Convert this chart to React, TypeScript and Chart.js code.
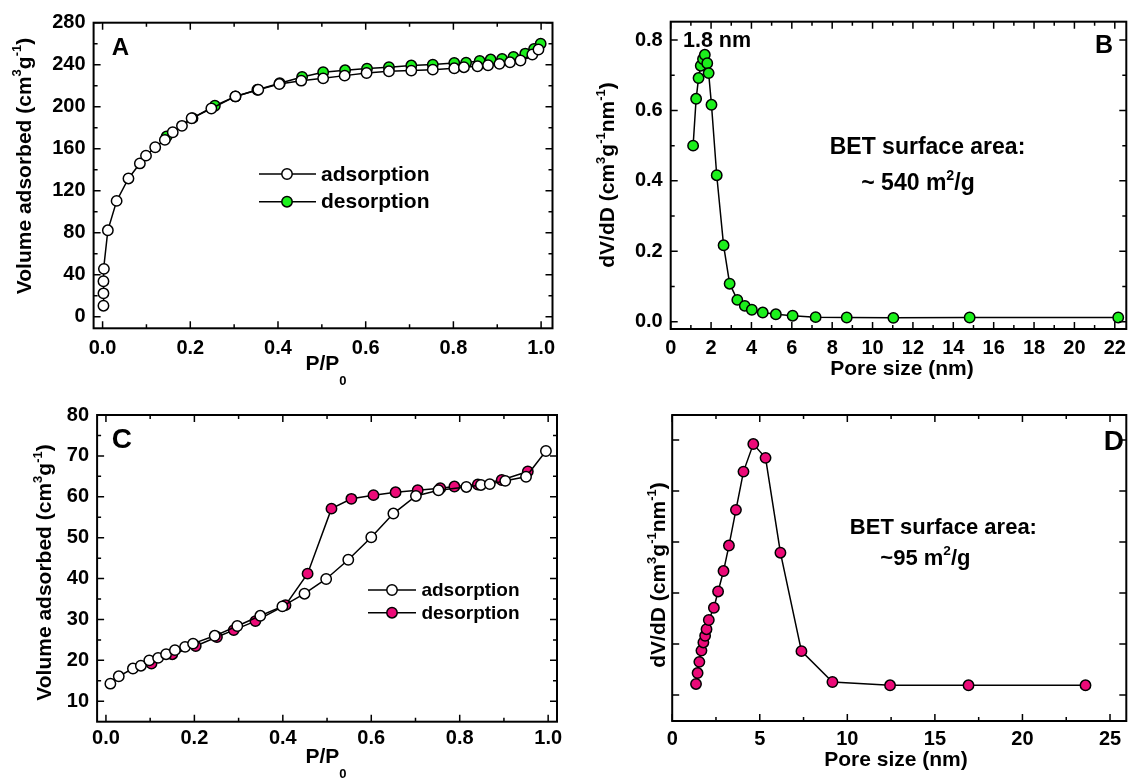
import { useEffect, useRef } from 'react';
import { Chart, registerables } from 'chart.js';

Chart.register(...registerables);

const FONT = '"Liberation Sans", Arial, Helvetica, sans-serif';
const W = 1133;
const H = 781;
const GREEN = '#1CF01C';
const PINK = '#EC0A78';

// ---------- Panel A: isotherm (large surface area sample) ----------
const aAdsX = [0.002, 0.002, 0.002, 0.003, 0.012, 0.032, 0.059, 0.085, 0.099, 0.12, 0.142, 0.16, 0.181, 0.203, 0.248, 0.303, 0.355, 0.403, 0.453, 0.503, 0.552, 0.602, 0.653, 0.704, 0.753, 0.802, 0.824, 0.855, 0.879, 0.905, 0.929, 0.953, 0.98, 0.994];
const aAdsY = [10.5, 22.3, 33.8, 45.6, 82.3, 110.3, 131.7, 146, 153.4, 161.4, 168.4, 175.7, 181.8, 189, 198.3, 209.8, 216.2, 221.6, 224.8, 227, 229.6, 232.1, 233.7, 234.4, 235.3, 236.6, 237.6, 238.5, 239.5, 240.8, 242.3, 244, 249.7, 254.5];
const aDesX = [0.999, 0.984, 0.964, 0.937, 0.911, 0.885, 0.86, 0.829, 0.802, 0.753, 0.704, 0.653, 0.603, 0.553, 0.503, 0.455, 0.404, 0.353, 0.303, 0.256, 0.205, 0.146];
const aDesY = [260, 255, 250.6, 247.4, 245.5, 244.9, 243.6, 242, 241.7, 240.1, 239.2, 237.6, 236.3, 234.7, 232.8, 228.3, 222.3, 216.2, 209.8, 200.9, 189.1, 171.6];
const aXTicks = [0, 0.2, 0.4, 0.6, 0.8, 1.0];
const aYTicks = [0, 40, 80, 120, 160, 200, 240, 280];

// ---------- Panel B: pore size distribution ----------
const bX = [1.11, 1.26, 1.38, 1.49, 1.6, 1.69, 1.81, 1.88, 2.02, 2.28, 2.62, 2.92, 3.3, 3.67, 4.02, 4.56, 5.21, 6.04, 7.18, 8.72, 11.03, 14.81, 22.17];
const bY = [0.5, 0.633, 0.692, 0.727, 0.746, 0.758, 0.734, 0.706, 0.616, 0.416, 0.217, 0.108, 0.062, 0.045, 0.034, 0.026, 0.021, 0.017, 0.013, 0.012, 0.011, 0.012, 0.012];
const bXTicks = [0, 2, 4, 6, 8, 10, 12, 14, 16, 18, 20, 22];
const bYTicks = [0, 0.2, 0.4, 0.6, 0.8];

// ---------- Panel C: isotherm (small surface area sample) ----------
const cAdsX = [0.01, 0.029, 0.061, 0.079, 0.098, 0.118, 0.136, 0.156, 0.179, 0.197, 0.246, 0.297, 0.349, 0.399, 0.449, 0.498, 0.548, 0.6, 0.65, 0.701, 0.752, 0.815, 0.848, 0.868, 0.903, 0.95, 0.995];
const cAdsY = [14.3, 16.1, 18.0, 18.7, 20.0, 20.6, 21.5, 22.5, 23.3, 24.1, 26.0, 28.4, 30.9, 33.2, 36.3, 39.9, 44.6, 50.1, 55.9, 60.2, 61.6, 62.4, 62.9, 63.1, 63.9, 64.9, 71.2];
const cDesX = [0.954, 0.895, 0.841, 0.788, 0.756, 0.705, 0.655, 0.605, 0.555, 0.51, 0.456, 0.406, 0.338, 0.289, 0.251, 0.203, 0.15, 0.103];
const cDesY = [66.2, 64.1, 63.0, 62.5, 62.1, 61.6, 61.1, 60.4, 59.5, 57.1, 41.2, 33.5, 29.6, 27.4, 25.7, 23.5, 21.5, 19.2];
const cXTicks = [0, 0.2, 0.4, 0.6, 0.8, 1.0];
const cYTicks = [10, 20, 30, 40, 50, 60, 70, 80];

// ---------- Panel D: pore size distribution (arbitrary units) ----------
const dX = [1.36, 1.45, 1.55, 1.67, 1.78, 1.88, 1.96, 2.09, 2.38, 2.62, 2.93, 3.24, 3.64, 4.07, 4.63, 5.33, 6.18, 7.38, 9.15, 12.44, 16.92, 23.6];
const dY = [0.216, 0.43, 0.65, 0.87, 1.03, 1.16, 1.29, 1.47, 1.71, 2.03, 2.43, 2.93, 3.63, 4.38, 4.92, 4.65, 2.79, 0.86, 0.255, 0.19, 0.19, 0.19];
const dXTicks = [0, 5, 10, 15, 20, 25];
const dYTicks = [0, 1, 2, 3, 4, 5];

type Part = { t: string; s?: 'sup' | 'sub' };
type Txt = { x: number; y: number; size: number; parts: Part[]; align: 'left' | 'center'; rot?: boolean };
type Series = { xs: number[]; ys: number[]; fill: string };
type Legend = { lineX0: number; lineX1: number; markX: number; textX: number; size: number; rows: { y: number; fill: string; label: string }[] };

type PanelCfg = {
  area: { l: number; t: number; r: number; b: number };
  xMin: number; xMax: number; xTicks: number[]; xMinor: number[]; xFmt: (v: number) => string; xPad: number;
  yMin: number; yMax: number; yTicks: number[]; yMinor: number[]; yFmt: (v: number) => string; yLabels: boolean;
  series: Series[];
  texts: Txt[];
  legend?: Legend;
};

const steps = (from: number, to: number, step: number) => {
  const out: number[] = [];
  for (let v = from; v <= to + 1e-9; v += step) out.push(Math.round(v * 1000) / 1000);
  return out;
};

const fx1 = (v: number) => v.toFixed(1);
const fint = (v: number) => String(Math.round(v));
const volTitle: Part[] = [{ t: 'Volume adsorbed (cm' }, { t: '3', s: 'sup' }, { t: 'g' }, { t: '-1', s: 'sup' }, { t: ')' }];
const dvTitle: Part[] = [{ t: 'dV/dD (cm' }, { t: '3', s: 'sup' }, { t: 'g' }, { t: '-1', s: 'sup' }, { t: 'nm' }, { t: '-1', s: 'sup' }, { t: ')' }];
const ppTitle: Part[] = [{ t: 'P/P' }, { t: '0', s: 'sub' }];

const R = 5.2;

const panels: PanelCfg[] = [
  {
    area: { l: 93.6, t: 22.7, r: 552.5, b: 328.3 },
    xMin: -0.0205, xMax: 1.026, xTicks: aXTicks, xMinor: steps(0.1, 0.9, 0.2), xFmt: fx1, xPad: 8,
    yMin: -11, yMax: 280, yTicks: aYTicks, yMinor: steps(20, 260, 40), yFmt: fint, yLabels: true,
    series: [
      { xs: aAdsX, ys: aAdsY, fill: '#ffffff' },
      { xs: aDesX, ys: aDesY, fill: GREEN },
    ],
    texts: [
      { x: 111.7, y: 55, size: 24, parts: [{ t: 'A' }], align: 'left' },
      { x: 326, y: 370, size: 21, parts: ppTitle, align: 'center' },
      { x: 30.5, y: 166, size: 21, parts: volTitle, align: 'center', rot: true },
    ],
    legend: {
      lineX0: 259, lineX1: 316, markX: 287, textX: 321, size: 21,
      rows: [
        { y: 174, fill: '#ffffff', label: 'adsorption' },
        { y: 201.7, fill: GREEN, label: 'desorption' },
      ],
    },
  },
  {
    area: { l: 670.7, t: 21.7, r: 1130, b: 329 },
    xMin: 0, xMax: 22.57, xTicks: bXTicks, xMinor: steps(1, 21, 2), xFmt: fint, xPad: 7,
    yMin: -0.0207, yMax: 0.852, yTicks: bYTicks, yMinor: steps(0.1, 0.7, 0.2), yFmt: fx1, yLabels: true,
    series: [{ xs: bX, ys: bY, fill: GREEN }],
    texts: [
      { x: 1095, y: 53.3, size: 25, parts: [{ t: 'B' }], align: 'left' },
      { x: 683, y: 46.5, size: 21.5, parts: [{ t: '1.8 nm' }], align: 'left' },
      { x: 927.5, y: 154, size: 23, parts: [{ t: 'BET surface area:' }], align: 'center' },
      { x: 918, y: 190, size: 23, parts: [{ t: '~ 540 m' }, { t: '2', s: 'sup' }, { t: '/g' }], align: 'center' },
      { x: 902, y: 375, size: 21, parts: [{ t: 'Pore size (nm)' }], align: 'center' },
      { x: 614, y: 175, size: 21, parts: dvTitle, align: 'center', rot: true },
    ],
  },
  {
    area: { l: 97.1, t: 415, r: 557, b: 721.7 },
    xMin: -0.02, xMax: 1.02, xTicks: cXTicks, xMinor: steps(0.1, 0.9, 0.2), xFmt: fx1, xPad: 5,
    yMin: 5, yMax: 80, yTicks: cYTicks, yMinor: steps(15, 75, 10), yFmt: fint, yLabels: true,
    series: [
      { xs: cAdsX, ys: cAdsY, fill: '#ffffff' },
      { xs: cDesX, ys: cDesY, fill: PINK },
    ],
    texts: [
      { x: 111.7, y: 448.3, size: 28, parts: [{ t: 'C' }], align: 'left' },
      { x: 326, y: 763, size: 21, parts: ppTitle, align: 'center' },
      { x: 51, y: 572.5, size: 21, parts: volTitle, align: 'center', rot: true },
    ],
    legend: {
      lineX0: 368, lineX1: 416, markX: 392, textX: 421.4, size: 19,
      rows: [
        { y: 590, fill: '#ffffff', label: 'adsorption' },
        { y: 612.7, fill: PINK, label: 'desorption' },
      ],
    },
  },
  {
    area: { l: 672.2, t: 415, r: 1130, b: 721 },
    xMin: 0, xMax: 25.93, xTicks: dXTicks, xMinor: steps(2.5, 22.5, 5), xFmt: fint, xPad: 6,
    yMin: -0.51, yMax: 5.49, yTicks: dYTicks, yMinor: [], yFmt: () => '', yLabels: false,
    series: [{ xs: dX, ys: dY, fill: PINK }],
    texts: [
      { x: 1103.8, y: 450, size: 28, parts: [{ t: 'D' }], align: 'left' },
      { x: 943.4, y: 534, size: 22, parts: [{ t: 'BET surface area:' }], align: 'center' },
      { x: 925.4, y: 565, size: 22, parts: [{ t: '~95 m' }, { t: '2', s: 'sup' }, { t: '/g' }], align: 'center' },
      { x: 896, y: 766, size: 21, parts: [{ t: 'Pore size (nm)' }], align: 'center' },
      { x: 665, y: 575, size: 21, parts: dvTitle, align: 'center', rot: true },
    ],
  },
];

const XH = 50;

function drawRich(ctx: CanvasRenderingContext2D, t: Txt) {
  const f = (sz: number) => `bold ${sz}px ${FONT}`;
  ctx.save();
  ctx.translate(t.x, t.y);
  if (t.rot) ctx.rotate(-Math.PI / 2);
  ctx.fillStyle = '#000';
  ctx.textBaseline = 'alphabetic';
  ctx.textAlign = 'left';
  const sizes = t.parts.map((p) => (p.s ? t.size * 0.62 : t.size));
  const widths = t.parts.map((p, i) => {
    ctx.font = f(sizes[i]);
    return ctx.measureText(p.t).width;
  });
  const total = widths.reduce((a, b) => a + b, 0);
  let cx = t.align === 'center' ? -total / 2 : 0;
  t.parts.forEach((p, i) => {
    ctx.font = f(sizes[i]);
    const dy = p.s === 'sup' ? -t.size * 0.45 : p.s === 'sub' ? t.size * 0.72 : 0;
    ctx.fillText(p.t, cx, dy);
    cx += widths[i];
  });
  ctx.restore();
}

function makePlugin(cfg: PanelCfg) {
  return {
    id: 'frameAndText',
    afterDraw(chart: any) {
      const ctx: CanvasRenderingContext2D = chart.ctx;
      const { left, top, right, bottom } = chart.chartArea;
      const xs = chart.scales.x;
      const ys = chart.scales.y;
      ctx.save();
      ctx.strokeStyle = '#000';
      ctx.lineWidth = 1.5;
      const drawX = (vals: number[], len: number) => {
        vals.forEach((v) => {
          if (v < cfg.xMin || v > cfg.xMax) return;
          const p = xs.getPixelForValue(v);
          ctx.beginPath();
          ctx.moveTo(p, bottom);
          ctx.lineTo(p, bottom - len);
          ctx.moveTo(p, top);
          ctx.lineTo(p, top + len);
          ctx.stroke();
        });
      };
      const drawY = (vals: number[], len: number) => {
        vals.forEach((v) => {
          if (v < cfg.yMin || v > cfg.yMax) return;
          const p = ys.getPixelForValue(v);
          ctx.beginPath();
          ctx.moveTo(left, p);
          ctx.lineTo(left + len, p);
          ctx.moveTo(right, p);
          ctx.lineTo(right - len, p);
          ctx.stroke();
        });
      };
      drawX(cfg.xTicks, 7);
      drawX(cfg.xMinor, 4);
      drawY(cfg.yTicks, 7);
      drawY(cfg.yMinor, 4);
      ctx.lineWidth = 2;
      ctx.strokeRect(left, top, right - left, bottom - top);
      if (cfg.legend) {
        const lg = cfg.legend;
        lg.rows.forEach((r) => {
          ctx.lineWidth = 1.5;
          ctx.beginPath();
          ctx.moveTo(lg.lineX0, r.y);
          ctx.lineTo(lg.lineX1, r.y);
          ctx.stroke();
          ctx.beginPath();
          ctx.arc(lg.markX, r.y, R, 0, Math.PI * 2);
          ctx.fillStyle = r.fill;
          ctx.fill();
          ctx.stroke();
          ctx.fillStyle = '#000';
          ctx.font = `bold ${lg.size}px ${FONT}`;
          ctx.textAlign = 'left';
          ctx.textBaseline = 'middle';
          ctx.fillText(r.label, lg.textX, r.y + 1);
        });
      }
      ctx.restore();
      cfg.texts.forEach((t) => drawRich(ctx, t));
    },
  };
}

function Panel({ cfg }: { cfg: PanelCfg }) {
  const ref = useRef<HTMLCanvasElement>(null);
  useEffect(() => {
    const canvas = ref.current;
    if (!canvas) return;
    const a = cfg.area;
    const tickFont = { family: FONT, size: 20, weight: 'bold' as const };
    const chart = new Chart(canvas, {
      type: 'line',
      data: {
        datasets: cfg.series.map((s) => ({
          data: s.xs.map((x, i) => ({ x, y: s.ys[i] })),
          borderColor: '#000',
          borderWidth: 1.5,
          backgroundColor: s.fill,
          pointBackgroundColor: s.fill,
          pointBorderColor: '#000',
          pointBorderWidth: 1.5,
          pointRadius: R,
          pointHoverRadius: R,
          tension: 0,
          fill: false,
        })),
      },
      options: {
        responsive: false,
        animation: false,
        devicePixelRatio: 1,
        events: [],
        layout: { padding: { left: 0, top: a.t, right: W - a.r, bottom: H - a.b - XH } },
        plugins: { legend: { display: false }, tooltip: { enabled: false }, title: { display: false } },
        scales: {
          x: {
            type: 'linear',
            min: cfg.xMin,
            max: cfg.xMax,
            afterBuildTicks: (s: any) => {
              s.ticks = cfg.xTicks.map((v) => ({ value: v }));
            },
            afterFit: (s: any) => {
              s.height = XH;
              s.paddingLeft = 0;
              s.paddingRight = 0;
            },
            grid: { display: false, drawTicks: false },
            border: { display: false },
            ticks: {
              font: tickFont,
              color: '#000',
              padding: cfg.xPad,
              autoSkip: false,
              maxRotation: 0,
              minRotation: 0,
              callback: (v: any) => cfg.xFmt(Number(v)),
            },
          },
          y: {
            type: 'linear',
            min: cfg.yMin,
            max: cfg.yMax,
            afterBuildTicks: (s: any) => {
              s.ticks = cfg.yTicks.map((v) => ({ value: v }));
            },
            afterFit: (s: any) => {
              s.width = a.l;
              s.paddingTop = 0;
              s.paddingBottom = 0;
            },
            grid: { display: false, drawTicks: false },
            border: { display: false },
            ticks: {
              display: cfg.yLabels,
              font: tickFont,
              color: '#000',
              padding: 8,
              autoSkip: false,
              callback: (v: any) => cfg.yFmt(Number(v)),
            },
          },
        },
      },
      plugins: [makePlugin(cfg)],
    });
    return () => chart.destroy();
  }, [cfg]);
  return (
    <canvas
      ref={ref}
      width={W}
      height={H}
      style={{ position: 'absolute', left: 0, top: 0, width: W, height: H }}
    />
  );
}

export default function App() {
  return (
    <div style={{ position: 'fixed', left: 0, top: 0, width: W, height: H, background: '#fff', overflow: 'hidden' }}>
      {panels.map((p, i) => (
        <Panel key={i} cfg={p} />
      ))}
    </div>
  );
}
